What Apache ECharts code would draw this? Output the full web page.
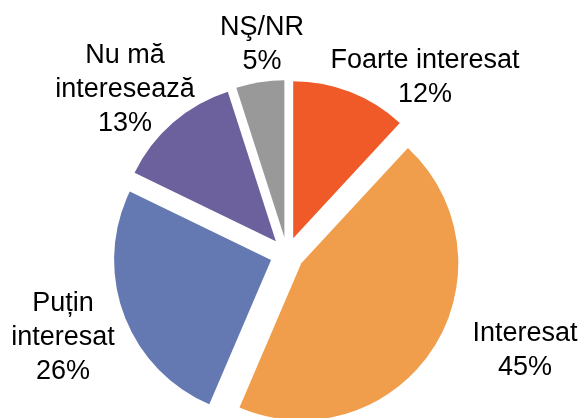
<!DOCTYPE html>
<html>
<head>
<meta charset="utf-8">
<script src="https://cdn.jsdelivr.net/npm/echarts@6/dist/echarts.min.js"></script>
<style>
  html, body { margin: 0; padding: 0; background: #fff; }
  #main { width: 582px; height: 418px; }
</style>
</head>
<body>
<div id="main"></div>
<script>
// categories (with the line breaks used in the labels)
var categories = ['Foarte interesat', 'Interesat', 'Puțin\ninteresat', 'Nu mă\ninteresează', 'NŞ/NR'];
// percentages
var values = [12, 45, 26, 13, 5];
var colors = ['#F05A28', '#F09D4C', '#6479B1', '#6C619D', '#999999'];
// where each label sits (centre of the text block)
var labelAnchors = [[425, 78], [525, 351], [63, 338], [125, 90], [262, 45]];

var myChart = echarts.init(document.getElementById('main'));

var pieBase = {
    type: 'pie',
    center: [287, 254],
    radius: 157,
    startAngle: 90,
    clockwise: true,
    emphasis: { disabled: true }
};

myChart.setOption({
    animation: false,
    series: [
        // the exploded slices
        Object.assign({}, pieBase, {
            selectedMode: 'multiple',
            selectedOffset: 17,
            label: { show: false },
            labelLine: { show: false },
            data: categories.map(function (name, i) {
                return { name: name, value: values[i], selected: true, itemStyle: { color: colors[i] } };
            })
        }),
        // labels only
        Object.assign({}, pieBase, {
            silent: true,
            avoidLabelOverlap: false,
            itemStyle: { color: 'rgba(0,0,0,0)' },
            label: {
                show: true,
                position: 'outside',
                alignTo: 'none',
                overflow: 'none',
                formatter: function (p) { return p.name + '\n' + p.value + '%'; },
                fontFamily: '"Liberation Sans", Arial, sans-serif',
                fontSize: 27,
                lineHeight: 34,
                color: '#000',
                align: 'center'
            },
            labelLine: { show: false },
            labelLayout: function (params) {
                var a = labelAnchors[params.dataIndex];
                return { x: a[0], y: a[1], align: 'center', verticalAlign: 'middle' };
            },
            data: categories.map(function (name, i) {
                return { name: name, value: values[i] };
            })
        })
    ]
});
</script>
</body>
</html>
